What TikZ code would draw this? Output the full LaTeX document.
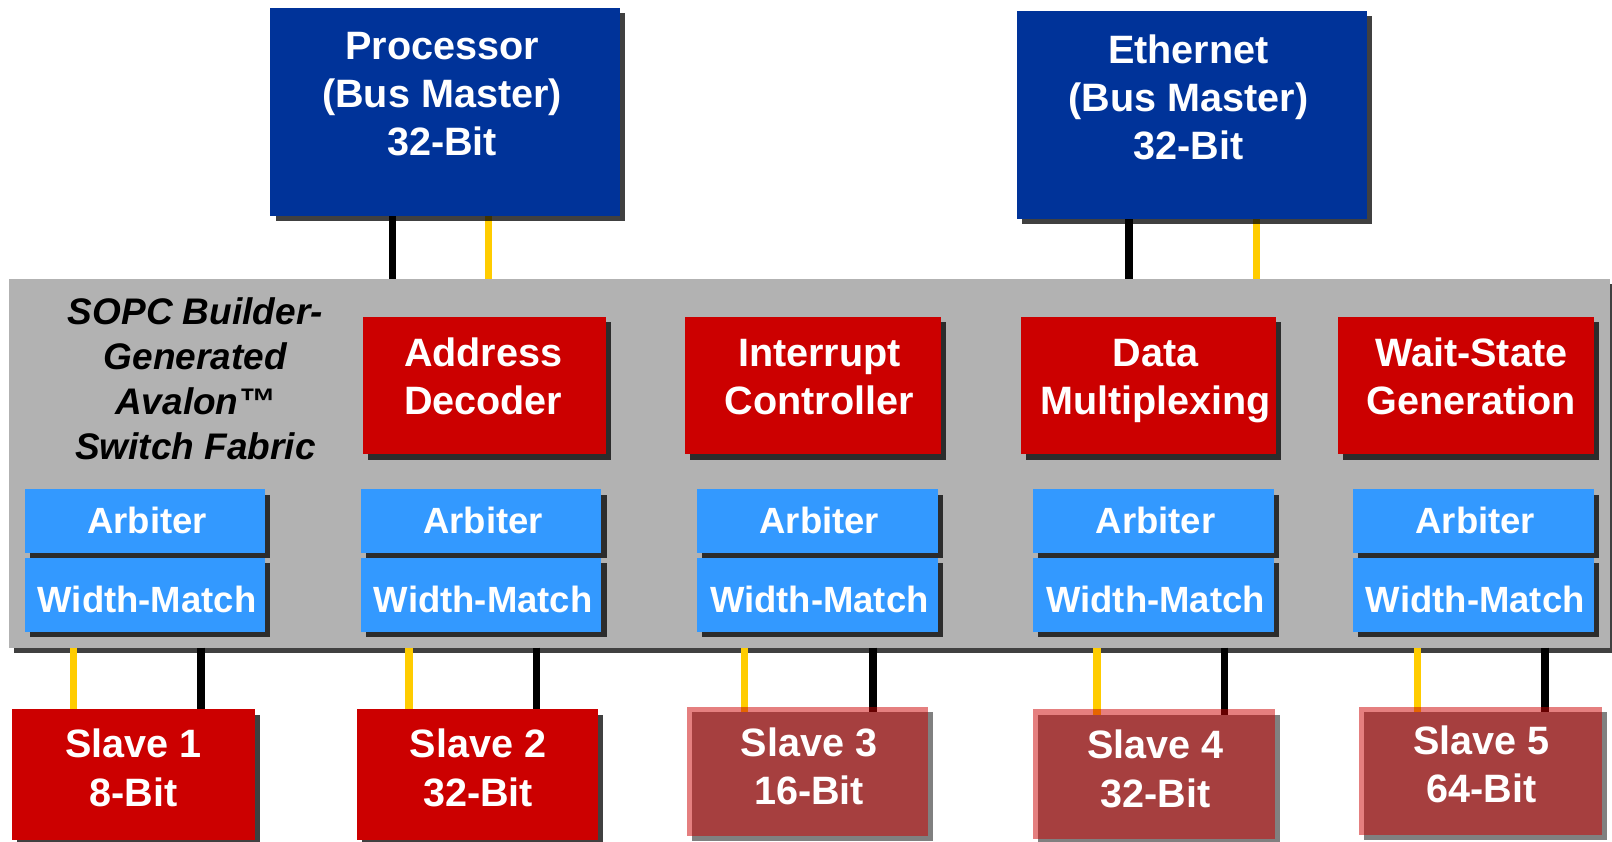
\documentclass[tikz,border=0pt]{standalone}
\usepackage{fontspec}
\setmainfont{Liberation Sans}
\usetikzlibrary{shadows}
\definecolor{masterblue}{HTML}{003399}
\definecolor{blockred}{HTML}{CC0000}
\definecolor{portblue}{HTML}{3399FF}
\definecolor{fabricgray}{HTML}{B2B2B2}
\definecolor{sigyellow}{HTML}{FFCC00}
\definecolor{fadeshadow}{HTML}{808080}
\pgfdeclarelayer{fabriclayer}
\pgfdeclarelayer{wirelayer}
\pgfsetlayers{fabriclayer,wirelayer,main}
\tikzset{
  boxshadow/.style={drop shadow={shadow xshift=5pt,shadow yshift=-5pt,fill=black,opacity=.75}},
  plainbox/.style={rectangle,inner sep=0pt,outer sep=0pt,draw=none,boxshadow},
  masterbox/.style={plainbox,fill=masterblue},
  unitbox/.style={plainbox,fill=blockred},
  portbox/.style={plainbox,fill=portblue},
  fabricbox/.style={plainbox,fill=fabricgray},
  slavebox/.style={plainbox,fill=blockred},
  fadedslave/.style={rectangle,inner sep=0pt,outer sep=0pt,draw=none,
    drop shadow={shadow xshift=5pt,shadow yshift=-5pt,fill=fadeshadow,opacity=1},
    fill=blockred,fill opacity=.5},
  bigtext/.style={text=white,font=\fontsize{38.5pt}{46.8pt}\selectfont\bfseries,
    align=center,anchor=base,inner sep=0pt},
  porttext/.style={text=white,font=\fontsize{35.5pt}{42pt}\selectfont\bfseries,
    align=center,anchor=base,inner sep=0pt},
  fabrictext/.style={text=black,font=\fontsize{36pt}{43.7pt}\selectfont\bfseries\itshape,
    align=center,anchor=base,inner sep=0pt},
  blackwire/.style={draw=black,line width=7.3pt},
  yellowwire/.style={draw=sigyellow,line width=7.3pt},
}
\begin{document}
\begin{tikzpicture}[x=1pt,y=-1pt]
\useasboundingbox (0,0) rectangle (1568,819);

% switch fabric background
\begin{pgfonlayer}{fabriclayer}
\node[fabricbox,minimum width=1557pt,minimum height=359pt] (fabric) at (787.5,450.5) {};
\end{pgfonlayer}

% bus masters
\node[masterbox,minimum width=340pt,minimum height=202pt] (proc) at (433,109) {};
\node[masterbox,minimum width=341pt,minimum height=202pt] (eth) at (1159.5,112) {};
\node[bigtext] (proc-text) at (430,151) {Processor\\(Bus Master)\\32-Bit};
\node[bigtext] (eth-text) at (1156,155) {Ethernet\\(Bus Master)\\32-Bit};

% fabric title
\node[fabrictext] (fabric-text) at (190,447) {SOPC Builder-\\Generated\\Avalon™\\Switch Fabric};

% fabric function units
\node[unitbox,minimum width=236pt,minimum height=134pt] (addr) at (471,375) {};
\node[unitbox,minimum width=249pt,minimum height=134pt] (intr) at (790.5,375) {};
\node[unitbox,minimum width=248pt,minimum height=134pt] (data) at (1117,375) {};
\node[unitbox,minimum width=249pt,minimum height=134pt] (wait) at (1425.5,375) {};
\node[bigtext] (addr-text) at (470,403) {Address\\Decoder};
\node[bigtext] (intr-text) at (797,403) {Interrupt\\Controller};
\node[bigtext] (data-text) at (1124,403) {Data\\Multiplexing};
\node[bigtext] (wait-text) at (1431,403) {Wait-State\\Generation};

% slave-side arbiter / width-match pairs
\foreach \i/\cx/\tx in {1/141/143,2/468/470,3/795/797,4/1122/1124,5/1433/1435}{
  \node[portbox,minimum width=234pt,minimum height=62pt] (arb\i) at (\cx,507) {};
  \node[portbox,minimum width=234pt,minimum height=72pt] (wm\i) at (\cx,579) {};
  \node[porttext] (arb\i-text) at (\tx,519) {Arbiter};
  \node[porttext] (wm\i-text) at (\tx,596) {Width-Match};
}

% slaves
\node[slavebox,minimum width=236pt,minimum height=127pt] (s1) at (130,753.5) {};
\node[slavebox,minimum width=235pt,minimum height=127pt] (s2) at (464.5,753.5) {};
\node[fadedslave,minimum width=235pt,minimum height=125pt] (s3) at (785.5,750.5) {};
\node[fadedslave,minimum width=235pt,minimum height=126pt] (s4) at (1122.5,753) {};
\node[fadedslave,minimum width=236pt,minimum height=124pt] (s5) at (1440,750) {};
\node[bigtext] (s1-text) at (130,784) {Slave 1\\8-Bit};
\node[bigtext] (s2-text) at (465,784) {Slave 2\\32-Bit};
\node[bigtext] (s3-text) at (787,783) {Slave 3\\16-Bit};
\node[bigtext] (s4-text) at (1124,785) {Slave 4\\32-Bit};
\node[bigtext] (s5-text) at (1441,781) {Slave 5\\64-Bit};

% data (black) and control (yellow) connections
\begin{pgfonlayer}{wirelayer}
\draw[blackwire]  ([xshift=-51pt]proc.south) -- ([xshift=-51pt]proc.south |- fabric.north);
\draw[yellowwire] ([xshift=42pt]proc.south) -- ([xshift=42pt]proc.south |- fabric.north);
\draw[blackwire]  ([xshift=-61.5pt]eth.south) -- ([xshift=-61.5pt]eth.south |- fabric.north);
\draw[yellowwire] ([xshift=62.5pt]eth.south) -- ([xshift=62.5pt]eth.south |- fabric.north);
\foreach \s/\ya/\bl in {s1/-58.5/65.5,s2/-66.5/57.5,s3/-61.5/63.5,s4/-55.5/68.5,s5/-61/63}{
  \draw[yellowwire] ([xshift=\ya pt]\s.north |- fabric.south) -- ([xshift=\ya pt,yshift=-5pt]\s.north);
  \draw[blackwire]  ([xshift=\bl pt]\s.north |- fabric.south) -- ([xshift=\bl pt,yshift=-5pt]\s.north);
}
\end{pgfonlayer}
\end{tikzpicture}
\end{document}
